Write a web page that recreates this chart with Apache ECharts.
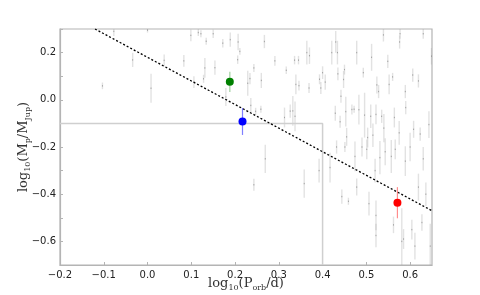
<!DOCTYPE html>
<html>
<head>
<meta charset="utf-8">
<script src="https://cdn.jsdelivr.net/npm/echarts@6/dist/echarts.min.js"></script>
<style>
  html, body { margin: 0; padding: 0; background: #fff; }
  #chart { width: 480px; height: 295px; }
</style>
</head>
<body>
<div id="chart"></div>
<script>
// background sample: x = log10(P/d), y = log10(Mp/MJup), err = half length of error bar
var bgX = [-0.077, -0.034, -0.103, 0.008, 0.038, 0.083, 0.0,
  0.099, 0.116, 0.122, 0.134, 0.106, 0.131, 0.128, 0.150, 0.154, 0.172, 0.189, 0.207, 0.211, 0.206,
  0.179, 0.229, 0.234, 0.243, 0.236, 0.247, 0.259, 0.26, 0.267, 0.291, 0.317, 0.313, 0.326, 0.332,
  0.337, 0.339, 0.336, 0.345, 0.346, 0.364, 0.369, 0.269, 0.243, 0.358,
  0.37, 0.393, 0.396, 0.4, 0.406, 0.421, 0.43, 0.434, 0.435, 0.442, 0.448, 0.45, 0.429, 0.44, 0.453,
  0.467, 0.472, 0.478, 0.483, 0.493, 0.496, 0.503, 0.512, 0.51, 0.524, 0.522, 0.528, 0.535, 0.539,
  0.549, 0.552, 0.56, 0.564, 0.577, 0.576, 0.589, 0.59, 0.606, 0.608, 0.619, 0.623, 0.63, 0.643,
  0.649, 0.455,
  0.392, 0.417, 0.432, 0.444, 0.459, 0.478, 0.474, 0.501, 0.506, 0.52, 0.522, 0.522, 0.531, 0.543,
  0.557, 0.581, 0.585, 0.589, 0.604, 0.611, 0.627, 0.619, 0.636, 0.646, 0.562, 0.566, 0.451,
  0.515, 0.54, 0.575, 0.6, 0.63, 0.49];
var bgY = [0.29, 0.169, 0.059, 0.049, 0.167, 0.165, 0.295,
  0.273, 0.285, 0.28, 0.248, 0.075, 0.135, 0.089, 0.28, 0.136, 0.24, 0.255, 0.245, 0.205, 0.17,
  0.012, 0.07, 0.09, 0.135, -0.024, -0.049, -0.04, 0.082, 0.247, 0.165, 0.125, -0.075, -0.048, -0.047,
  -0.07, 0.065, 0.168, 0.168, 0.06, 0.2, 0.05, -0.25, -0.36, -0.355,
  0.187, 0.087, 0.05, 0.115, 0.075, 0.2, 0.245, 0.2, 0.11, 0.015, 0.086, 0.128, -0.057, -0.093, -0.05,
  -0.041, -0.04, 0.2, -0.042, 0.115, -0.065, -0.16, 0.18, -0.07, 0.063, -0.062, 0.035, -0.07, 0.275,
  0.163, 0.065, 0.097, -0.075, 0.28, 0.245, 0.035, -0.033, 0.105, -0.125, 0.08, -0.145, 0.28, -0.105,
  0.185, -0.157,
  -0.3, -0.287, -0.2, -0.41, -0.43, -0.37, -0.24, -0.21, -0.44, -0.3, -0.49, -0.575, -0.245, -0.22,
  -0.24, -0.6, -0.59, -0.26, -0.55, -0.62, -0.52, -0.37, -0.4, -0.62, -0.53, -0.21, -0.2,
  -0.15, -0.12, -0.14, -0.2, -0.25, -0.2];
var bgErr = [0.02, 0.03, 0.014, 0.061, 0.025, 0.025, 0.01,
  0.025, 0.015, 0.015, 0.015, 0.025, 0.042, 0.017, 0.018, 0.03, 0.018, 0.03, 0.035, 0.014, 0.018,
  0.038, 0.053, 0.024, 0.017, 0.032, 0.015, 0.015, 0.032, 0.028, 0.021, 0.016, 0.042, 0.028, 0.063,
  0.063, 0.042, 0.018, 0.018, 0.021, 0.05, 0.021, 0.06, 0.025, 0.06,
  0.035, 0.021, 0.025, 0.027, 0.032, 0.05, 0.046, 0.05, 0.027, 0.028, 0.036, 0.021, 0.032, 0.025, 0.063,
  0.021, 0.015, 0.05, 0.063, 0.021, 0.095, 0.042, 0.057, 0.05, 0.036, 0.042, 0.028, 0.028, 0.028,
  0.028, 0.042, 0.017, 0.042, 0.021, 0.028, 0.028, 0.028, 0.028, 0.036, 0.028, 0.028, 0.021, 0.057,
  0.035, 0.038,
  0.05, 0.063, 0.028, 0.03, 0.015, 0.036, 0.063, 0.042, 0.05, 0.05, 0.063, 0.05, 0.07, 0.057,
  0.07, 0.14, 0.042, 0.063, 0.042, 0.057, 0.035, 0.057, 0.05, 0.095, 0.035, 0.042, 0.021,
  0.05, 0.06, 0.05, 0.06, 0.05, 0.04];

// highlighted planets
var greenPt = [0.188, 0.076, 0.043];
var bluePt = [0.217, -0.092, 0.057];
var redPt = [0.571, -0.436, 0.066];

// fitted boundary line and reference box edges
var fitLine = [[-0.12, 0.3], [0.65, -0.47]];
var refLine = [[-0.2, -0.1], [0.4, -0.1], [0.4, -0.7]];

var bgData = bgX.map(function (x, i) { return [x, bgY[i], bgErr[i]]; });

function errBar(color, width, dot) {
  return function (params, api) {
    var x = api.value(0), y = api.value(1), e = api.value(2);
    var lo = api.coord([x, y - e]);
    var hi = api.coord([x, y + e]);
    var c = api.coord([x, y]);
    var kids = [{
      type: 'line',
      shape: { x1: lo[0], y1: lo[1], x2: hi[0], y2: hi[1] },
      style: { stroke: color, lineWidth: width }
    }];
    if (dot) {
      kids.push({
        type: 'line',
        shape: { x1: c[0], y1: c[1] - 0.7, x2: c[0], y2: c[1] + 0.7 },
        style: { stroke: dot, lineWidth: 1 }
      });
    }
    return { type: 'group', children: kids };
  };
}

function tickFmt(v) {
  return v.toFixed(1).replace('-', '\u2212');
}

var serif = 'DejaVu Serif';
var myChart = echarts.init(document.getElementById('chart'));
var option = {
  animation: false,
  grid: {
    left: 60, right: 48, top: 29, bottom: 30,
    outerBoundsMode: 'none', containLabel: false,
    show: true, borderColor: '#b4b4b4', borderWidth: 1.2
  },
  xAxis: {
    type: 'value', min: -0.2, max: 0.65, interval: 0.1,
    name: '{a|log}{s|10}{a|(P}{s|orb}{a|/d)}',
    nameLocation: 'middle', nameGap: 11, nameMoveOverlap: false,
    nameTextStyle: {
      rich: {
        a: { fontFamily: serif, fontSize: 13, lineHeight: 16, color: '#333' },
        s: { fontFamily: serif, fontSize: 8, lineHeight: 9, verticalAlign: 'bottom', color: '#333' }
      }
    },
    splitLine: { show: false },
    axisLine: { show: true, onZero: false, lineStyle: { color: '#b4b4b4', width: 1.2 } },
    axisTick: { show: true, inside: true, length: 3, lineStyle: { color: '#b4b4b4' } },
    axisLabel: { fontFamily: 'DejaVu Sans', fontSize: 10, color: '#222', margin: 5,
      showMaxLabel: false, formatter: tickFmt }
  },
  yAxis: {
    type: 'value', min: -0.7, max: 0.3, interval: 0.1,
    name: '{a|log}{s|10}{a|(M}{s|p}{a|/M}{s|Jup}{a|)}',
    nameLocation: 'middle', nameGap: 28, nameRotate: 90, nameMoveOverlap: false,
    nameTextStyle: {
      rich: {
        a: { fontFamily: serif, fontSize: 13, lineHeight: 16, color: '#333' },
        s: { fontFamily: serif, fontSize: 8, lineHeight: 9, verticalAlign: 'bottom', color: '#333' }
      }
    },
    splitLine: { show: false },
    axisLine: { show: true, onZero: false, lineStyle: { color: '#b4b4b4', width: 1.2 } },
    axisTick: { show: true, inside: true, length: 3, lineStyle: { color: '#b4b4b4' } },
    axisLabel: {
      fontFamily: 'DejaVu Sans', fontSize: 10, color: '#222', margin: 4,
      formatter: function (v) {
        var k = Math.round(v * 10);
        if (k % 2 !== 0 || k > 2) return '';
        return tickFmt(k / 10);
      }
    }
  },
  series: [
    {
      type: 'custom', clip: true, z: 2,
      renderItem: errBar('rgba(160,160,160,0.3)', 1.4, 'rgba(120,120,120,0.6)'),
      encode: { x: 0, y: 1 },
      data: bgData
    },
    {
      type: 'line', data: refLine, symbol: 'none', z: 3,
      lineStyle: { color: '#cfcfcf', width: 1.5 }
    },
    {
      type: 'line', data: fitLine, symbol: 'none', z: 4,
      lineStyle: { color: '#000', width: 1.3, type: [2, 2] }
    },
    {
      type: 'custom', clip: true, z: 5,
      renderItem: errBar('rgba(0,128,0,0.3)', 1.5),
      encode: { x: 0, y: 1 },
      data: [greenPt]
    },
    {
      type: 'custom', clip: true, z: 5,
      renderItem: errBar('rgba(0,0,255,0.5)', 1.2),
      encode: { x: 0, y: 1 },
      data: [bluePt]
    },
    {
      type: 'custom', clip: true, z: 5,
      renderItem: errBar('rgba(255,0,0,0.45)', 1.2),
      encode: { x: 0, y: 1 },
      data: [redPt]
    },
    {
      type: 'scatter', symbolSize: 8, z: 6,
      itemStyle: { color: '#008000', opacity: 1 },
      data: [[greenPt[0], greenPt[1]]]
    },
    {
      type: 'scatter', symbolSize: 8, z: 6,
      itemStyle: { color: '#0000ff', opacity: 1 },
      data: [[bluePt[0], bluePt[1]]]
    },
    {
      type: 'scatter', symbolSize: 8, z: 6,
      itemStyle: { color: '#ff0000', opacity: 1 },
      data: [[redPt[0], redPt[1]]]
    }
  ]
};
myChart.setOption(option);
</script>
</body>
</html>
